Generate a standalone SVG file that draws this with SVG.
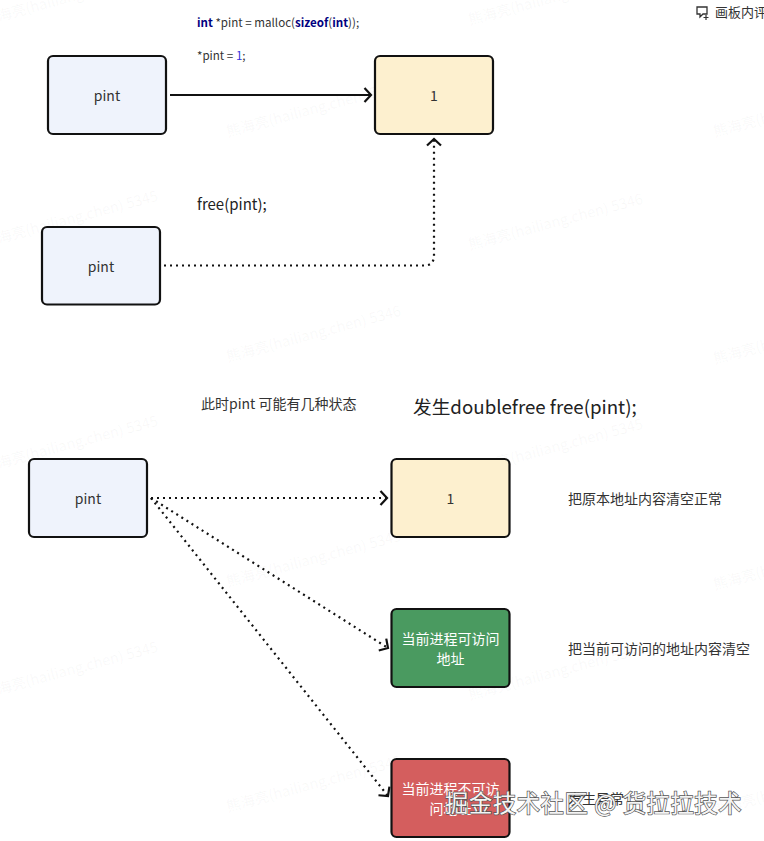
<svg xmlns="http://www.w3.org/2000/svg" width="764" height="841" viewBox="0 0 764 841">
<defs>
<marker id="arr" markerUnits="userSpaceOnUse" markerWidth="14" markerHeight="16" refX="10" refY="7" orient="auto" overflow="visible"><path d="M3.500 0L10 7L3.500 14" fill="none" stroke="#111" stroke-width="2.200"/></marker>
</defs>
<style>
text{font-family:"Noto Sans CJK SC","Noto Sans","Open Sans",sans-serif;fill:#333;font-size:14px}
.c{text-anchor:middle}
.b{stroke:#111;stroke-width:2.200}
.blue{fill:#eff3fc}.yel{fill:#fdf0cf}.grn{fill:#4a9a60}.red{fill:#d45e5e}
.l{fill:none;stroke:#111;stroke-width:2}
.d{stroke-width:2.200;stroke-dasharray:2 4}
.wm{fill:#8a8a8a;fill-opacity:.06;font-size:14.500px}
.kw{fill:#000080;font-weight:700}
</style>
<rect width="764" height="841" fill="#fff"/>
<g id="watermarks">
<text class="wm" transform="translate(-15 25) rotate(-15)">熊海亮(hailiang.chen) 5345</text>
<text class="wm" transform="translate(228 137) rotate(-15)">熊海亮(hailiang.chen) 5345</text>
<text class="wm" transform="translate(470 25) rotate(-15)">熊海亮(hailiang.chen) 5345</text>
<text class="wm" transform="translate(715 137) rotate(-15)">熊海亮(hailiang.chen) 5345</text>
<text class="wm" transform="translate(-15 247) rotate(-15)">熊海亮(hailiang.chen) 5345</text>
<text class="wm" transform="translate(470 250) rotate(-15)">熊海亮(hailiang.chen) 5346</text>
<text class="wm" transform="translate(228 362) rotate(-15)">熊海亮(hailiang.chen) 5346</text>
<text class="wm" transform="translate(715 364) rotate(-15)">熊海亮(hailiang.chen) 5346</text>
<text class="wm" transform="translate(-15 472) rotate(-15)">熊海亮(hailiang.chen) 5345</text>
<text class="wm" transform="translate(470 475) rotate(-15)">熊海亮(hailiang.chen) 5345</text>
<text class="wm" transform="translate(228 587) rotate(-15)">熊海亮(hailiang.chen) 5345</text>
<text class="wm" transform="translate(715 590) rotate(-15)">熊海亮(hailiang.chen) 5345</text>
<text class="wm" transform="translate(-15 698) rotate(-15)">熊海亮(hailiang.chen) 5345</text>
<text class="wm" transform="translate(470 700) rotate(-15)">熊海亮(hailiang.chen) 5345</text>
<text class="wm" transform="translate(228 812) rotate(-15)">熊海亮(hailiang.chen) 5345</text>
<text class="wm" transform="translate(715 815) rotate(-15)">熊海亮(hailiang.chen) 5345</text>
</g>
<g id="connectors">
<path class="l" d="M170 95H371" marker-end="url(#arr)"/>
<path class="l d" d="M164 265.500H424Q434 265.500 434 255.500V139" marker-end="url(#arr)"/>
<path class="l d" d="M151 498H387" marker-end="url(#arr)"/>
<path class="l d" d="M151 498L388 648" marker-end="url(#arr)"/>
<path class="l d" d="M151 498L388 796" marker-end="url(#arr)"/>
</g>
<g id="node-pint-1"><rect class="b blue" x="48" y="56" width="118" height="78" rx="5"/><text class="c" x="107" y="101">pint</text></g>
<g id="node-pint-2"><rect class="b blue" x="42" y="227" width="118" height="77.500" rx="5"/><text class="c" x="101" y="272">pint</text></g>
<g id="node-pint-3"><rect class="b blue" x="29" y="459" width="118" height="78" rx="5"/><text class="c" x="88" y="504">pint</text></g>
<g id="node-value-1"><rect class="b yel" x="375" y="56" width="118" height="78" rx="5"/><text class="c" x="434" y="101">1</text></g>
<g id="node-value-2"><rect class="b yel" x="391.500" y="459" width="118" height="78" rx="5"/><text class="c" x="450.500" y="504">1</text></g>
<g id="node-accessible"><rect class="b grn" x="391.500" y="609" width="118" height="78" rx="5"/><text class="c" x="450.500" y="644" style="fill:#fff">当前进程可访问</text><text class="c" x="450.500" y="664" style="fill:#fff">地址</text></g>
<g id="node-inaccessible"><rect class="b red" x="391.500" y="759" width="118" height="78" rx="5"/><text class="c" x="450.500" y="794" style="fill:#fff">当前进程不可访</text><text class="c" x="450.500" y="814" style="fill:#fff">问地址</text></g>
<g id="labels">
<text x="197" y="27" style="font-size:11.600px"><tspan class="kw">int</tspan> *pint = malloc(<tspan class="kw">sizeof</tspan>(<tspan class="kw">int</tspan>));</text>
<text x="197" y="60" style="font-size:11.600px">*pint = <tspan style="fill:#3333dd">1</tspan>;</text>
<text x="197" y="210" style="font-size:15px;fill:#222">free(pint);</text>
<text x="201" y="409">此时pint 可能有几种状态</text>
<text x="413" y="414" style="font-size:18.700px;fill:#222">发生doublefree free(pint);</text>
<text x="568" y="504">把原本地址内容清空正常</text>
<text x="568" y="654">把当前可访问的地址内容清空</text>
<text x="568" y="804">发生异常</text>
<text x="715" y="17" style="font-size:13px">画板内评</text>
<path d="M697 7H707V14H703L700 17V14H697Z" fill="none" stroke="#333" stroke-width="1.300"/>
<path d="M706 15V20M703.500 17.500H708.500" stroke="#333" stroke-width="1.200"/>
<text x="445" y="812" style="font-size:23.300px;fill:#f4f4f4;stroke:#555;stroke-width:1.400;paint-order:stroke;letter-spacing:.6px">掘金技术社区 @ 货拉拉技术</text>
</g>
</svg>
